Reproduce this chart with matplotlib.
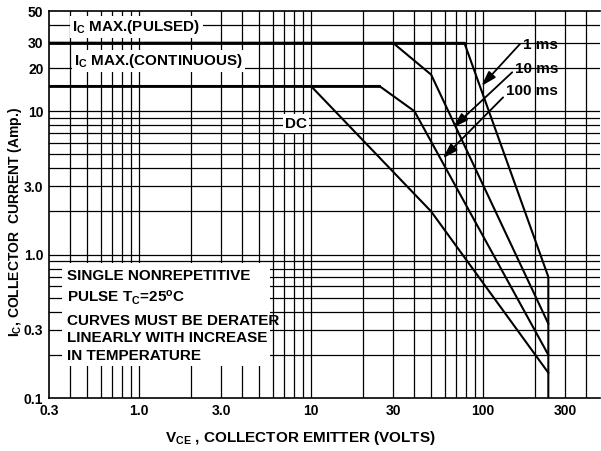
import matplotlib
matplotlib.use("Agg")
import matplotlib.pyplot as plt
from matplotlib.patches import Rectangle

plt.rcParams['font.family'] = ['Liberation Sans', 'DejaVu Sans']
plt.rcParams['font.weight'] = 'bold'
plt.rcParams['mathtext.fontset'] = 'custom'
plt.rcParams['mathtext.rm'] = 'Liberation Sans:bold'
plt.rcParams['mathtext.it'] = 'Liberation Sans:bold'
plt.rcParams['mathtext.bf'] = 'Liberation Sans:bold'

# ---- data ----
dc_v = [0.3, 10, 50, 240]
dc_i = [15, 15, 2.0, 0.15]
ms100_v = [10, 25, 40, 240]
ms100_i = [15, 15, 10, 0.2]
ms10_v = [0.3, 30, 50, 240]
ms10_i = [30, 30, 18, 0.33]
ms1_v = [0.3, 78, 240, 240]
ms1_i = [30, 30, 0.7, 0.1]

x_ticks = [0.3, 1.0, 3.0, 10, 30, 100, 300]
x_tick_labels = ['0.3', '1.0', '3.0', '10', '30', '100', '300']
y_ticks = [0.1, 0.3, 1.0, 3.0, 10, 20, 30, 50]
y_tick_labels = ['0.1', '0.3', '1.0', '3.0', '10', '20', '30', '50']

x_grid = [0.4, 0.5, 0.6, 0.7, 0.8, 0.9, 1, 2, 3, 4, 5, 6, 7, 8, 9,
          10, 20, 30, 40, 50, 60, 70, 80, 90, 100, 200, 300, 400]
y_grid = [0.2, 0.3, 0.4, 0.5, 0.6, 0.7, 0.8, 0.9, 1, 2, 3, 4, 5, 6, 7, 8, 9,
          10, 20, 30, 40]

fig = plt.figure(figsize=(6.01, 4.51), dpi=100)
ax = fig.add_axes([0.0815, 0.1175, 0.917, 0.858])
ax.set_xscale('log')
ax.set_yscale('log')
ax.set_xlim(0.3, 480)
ax.set_ylim(0.1, 50)

for xv in x_grid:
    ax.axvline(xv, color='black', lw=0.9, zorder=1)
for yv in y_grid:
    ax.axhline(yv, color='black', lw=0.9, zorder=1)

# white text block in lower-left
ax.add_patch(Rectangle((0.357, 0.167), 5.8 - 0.357, 0.87 - 0.167,
                       facecolor='white', edgecolor='none', zorder=2))

kw = dict(color='black', lw=1.5, zorder=3, solid_joinstyle='miter')
ax.plot(dc_v, dc_i, **kw)
ax.plot(ms100_v, ms100_i, **kw)
ax.plot(ms10_v, ms10_i, **kw)
ax.plot(ms1_v, ms1_i, **kw)
ax.plot([0.3, 25], [15, 15], color='black', lw=2.0, zorder=3)
ax.plot([0.3, 78], [30, 30], color='black', lw=2.0, zorder=3)

ax.set_xticks(x_ticks)
ax.set_xticklabels(x_tick_labels)
ax.set_yticks(y_ticks)
ax.set_yticklabels(y_tick_labels)
ax.minorticks_off()
ax.tick_params(length=0, labelsize=10, pad=4)
for lab in ax.get_xticklabels() + ax.get_yticklabels():
    lab.set_fontweight('bold')

ax.spines['right'].set_visible(False)
for s in ['left', 'top', 'bottom']:
    ax.spines[s].set_linewidth(1.2)

bbox = dict(facecolor='white', edgecolor='none', pad=1.5)
ax.text(0.41, 38.7, r'I$_C$ MAX.(PULSED)', fontsize=11, va='center', ha='left',
        bbox=bbox, zorder=4)
ax.text(0.42, 22.4, r'I$_C$ MAX.(CONTINUOUS)', fontsize=11, va='center', ha='left',
        bbox=bbox, zorder=4)
ax.text(8.2, 8.2, 'DC', fontsize=11, va='center', ha='center', bbox=bbox, zorder=4)

box_lines = ['SINGLE NONREPETITIVE', r'PULSE T$_C$=25$^o$C',
             'CURVES MUST BE DERATER', 'LINEARLY WITH INCREASE',
             'IN TEMPERATURE']
box_y = [0.713, 0.50, 0.345, 0.263, 0.197]
for t, yv in zip(box_lines, box_y):
    ax.text(0.38, yv, t, fontsize=11, va='center', ha='left', zorder=4)

akw = dict(arrowstyle='-|>,head_length=0.9,head_width=0.28', color='black', lw=1.3,
           shrinkA=0, shrinkB=0)
ax.annotate('', xy=(98, 15), xytext=(164, 29.4), arrowprops=akw, zorder=5)
ax.annotate('', xy=(67, 7.7), xytext=(148, 18.7), arrowprops=akw, zorder=5)
ax.annotate('', xy=(58.5, 4.7), xytext=(131, 12.5), arrowprops=akw, zorder=5)
ax.text(171, 29, '1 ms', fontsize=11, va='center', ha='left', zorder=5)
ax.text(154, 19.7, '10 ms', fontsize=11, va='center', ha='left', zorder=5)
ax.text(136, 13.8, '100 ms', fontsize=11, va='center', ha='left', zorder=5)

fig.text(0.5, 0.028, r'V$_{CE}$ , COLLECTOR EMITTER (VOLTS)', fontsize=11,
         ha='center', va='center', fontweight='bold')
fig.text(15 / 601, 1 - 222 / 451, r'I$_C$, COLLECTOR  CURRENT (Amp.)', fontsize=10,
         fontweight='bold', rotation=90, ha='center', va='center')

fig.savefig('out.png', dpi=100)
